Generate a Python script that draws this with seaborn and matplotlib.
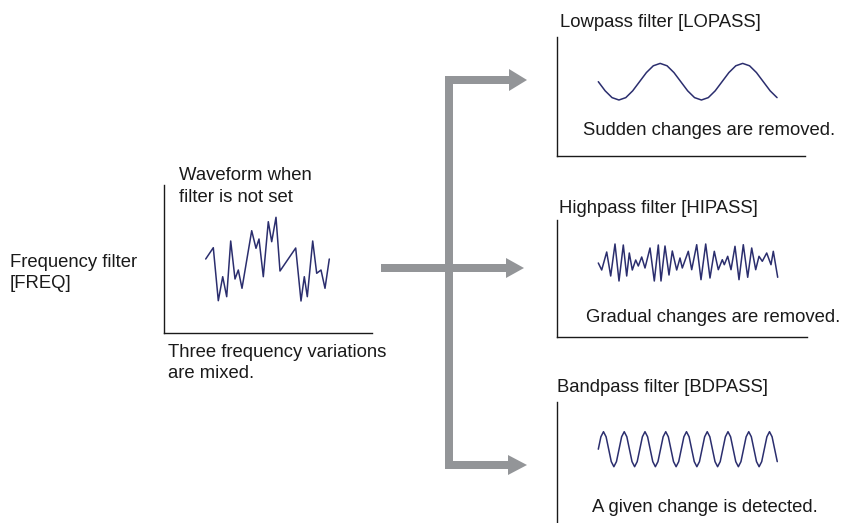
import matplotlib
matplotlib.use("Agg")
import matplotlib.pyplot as plt
import seaborn as sns
from matplotlib.patches import Polygon, Rectangle

W, H = 843, 523

# waveform without filter: time offset and amplitude
mixed_t = [0, 7.6, 12.6, 17, 21, 25, 29.3, 32.6, 36.3, 46, 50.3, 53.3, 57.6,
           62.6, 66, 70.3, 74.3, 90, 95.3, 98.6, 101.6, 107, 111, 115.3, 119.3, 123.6]
mixed_amp = [1, 12.3, -40.7, -16.7, -36.7, 19, -19, -10, -28.3, 29.3, 11.7, 21, -16.7,
             38.3, 18.3, 42.7, -11, 12, -41, -16.7, -36.7, 19, -13.3, -10, -28.3, 1]

# lowpass output (samples, 12 per cycle)
lowpass_amp = [0, -0.5, -0.87, -1, -0.87, -0.5, 0, 0.5, 0.87, 1, 0.87, 0.5,
               0, -0.5, -0.87, -1, -0.87, -0.5, 0, 0.5, 0.87, 1, 0.87, 0.5,
               0, -0.5, -0.87]

# highpass output: turning points (time offset, amplitude)
highpass_t = [0, 3.4, 8.4, 12.4, 16.7, 20.7, 25, 28.4, 31, 34, 37.4, 40, 43.4, 46.7,
              51.7, 56, 60, 62.7, 66.7, 70.7, 74, 78.4, 81.7, 84, 90, 93.4, 98.4,
              102.7, 107.4, 111.7, 116, 120, 124, 126, 129.4, 132.7, 136.7, 140.7,
              145, 149.4, 153.4, 157.4, 160.7, 164, 168.4, 172.7, 175, 179.4]
highpass_amp = [0, -7, 11, -13, 19, -18, 18, -13, 10, -7, 3, -3, 6, -5,
                15, -18, 18, -18, 17, -12, 12, -7, 5, -5, 11.7, -6.7, 18.3,
                -16.7, 19, -15, 11.7, -6.7, 3.3, -1.7, 6.7, -6.7, 16.7, -16.7,
                18.3, -14.3, 15, -6.7, 6.7, 1.7, 10, -1.7, 11.7, -14.3]

# bandpass output (samples, 8 per cycle)
bandpass_amp = [0, 0.71, 1, 0.71, 0, -0.71, -1, -0.71,
                0, 0.71, 1, 0.71, 0, -0.71, -1, -0.71,
                0, 0.71, 1, 0.71, 0, -0.71, -1, -0.71,
                0, 0.71, 1, 0.71, 0, -0.71, -1, -0.71,
                0, 0.71, 1, 0.71, 0, -0.71, -1, -0.71,
                0, 0.71, 1, 0.71, 0, -0.71, -1, -0.71,
                0, 0.71, 1, 0.71, 0, -0.71, -1, -0.71,
                0, 0.71, 1, 0.71, 0, -0.71, -1, -0.71,
                0, 0.71, 1, 0.71, 0, -0.71]

WAVE = "#2b2e6e"
GREY = "#939598"
INK = "#1a1a1a"
FS = 13.3
LW = 1.1

sns.set_theme(style="white")
plt.rcParams['font.family'] = ['Liberation Sans', 'DejaVu Sans']

fig = plt.figure(figsize=(W / 100, H / 100), dpi=100)
bg = fig.add_axes([0, 0, 1, 1])
bg.set_xlim(0, W)
bg.set_ylim(H, 0)
bg.axis("off")


def frame(ax, box, x0, sx, y0, sy, bottom_line=True):
    left, top, right, bottom = box
    ax.set_position([left / W, 1 - bottom / H, (right - left) / W, (bottom - top) / H])
    ax.set_xlim((left - x0) / sx, (right - x0) / sx)
    ax.set_ylim((y0 - bottom) / sy, (y0 - top) / sy)
    ax.set_facecolor("none")
    ax.set_xticks([])
    ax.set_yticks([])
    ax.set_xlabel("")
    ax.set_ylabel("")
    for side in ["top", "right"]:
        ax.spines[side].set_visible(False)
    ax.spines["bottom"].set_visible(bottom_line)
    for side in ["left", "bottom"]:
        ax.spines[side].set_color(INK)
        ax.spines[side].set_linewidth(1.0)


ax1 = fig.add_axes([0, 0, 1, 1])
sns.lineplot(x=mixed_t, y=mixed_amp, ax=ax1, color=WAVE, linewidth=LW, sort=False, estimator=None)
frame(ax1, (164, 185, 372, 333), 205.7, 1, 260, 1)

ax2 = fig.add_axes([0, 0, 1, 1])
sns.lineplot(x=list(range(len(lowpass_amp))), y=lowpass_amp, ax=ax2, color=WAVE, linewidth=LW)
frame(ax2, (557, 37, 805, 156), 598.3, 6.875, 81.7, 18.3)

ax3 = fig.add_axes([0, 0, 1, 1])
sns.lineplot(x=highpass_t, y=highpass_amp, ax=ax3, color=WAVE, linewidth=LW, sort=False, estimator=None)
frame(ax3, (557, 220, 807, 337), 598.3, 1, 263, 1)

ax4 = fig.add_axes([0, 0, 1, 1])
sns.lineplot(x=list(range(len(bandpass_amp))), y=bandpass_amp, ax=ax4, color=WAVE, linewidth=LW)
frame(ax4, (557, 402, 805, 523), 598.3, 20.75 / 8, 449.2, 17.5, bottom_line=False)

# grey routing arrows
bg.add_patch(Rectangle((445, 76), 8, 393, color=GREY, lw=0))
bg.add_patch(Rectangle((381, 264), 126, 8, color=GREY, lw=0))
bg.add_patch(Rectangle((445, 76), 65, 8, color=GREY, lw=0))
bg.add_patch(Rectangle((445, 461), 64, 8, color=GREY, lw=0))
bg.add_patch(Polygon([(509, 69), (527, 80), (509, 91)], color=GREY, lw=0))
bg.add_patch(Polygon([(506, 258), (524, 268), (506, 278)], color=GREY, lw=0))
bg.add_patch(Polygon([(508, 455), (527, 465), (508, 475)], color=GREY, lw=0))

labels = [
    (10, 266.7, "Frequency filter"),
    (10, 288.5, "[FREQ]"),
    (179.3, 180, "Waveform when"),
    (179.3, 201.7, "filter is not set"),
    (168.3, 356.7, "Three frequency variations"),
    (168.3, 378, "are mixed."),
    (560, 26.7, "Lowpass filter [LOPASS]"),
    (583.3, 135, "Sudden changes are removed."),
    (559.3, 213.3, "Highpass filter [HIPASS]"),
    (586, 321.7, "Gradual changes are removed."),
    (557.3, 391.7, "Bandpass filter [BDPASS]"),
    (591.7, 511.7, "A given change is detected."),
]
for x, y, s in labels:
    bg.text(x, y, s, fontsize=FS, color=INK, ha="left", va="baseline")

plt.savefig("out.png", dpi=100)
